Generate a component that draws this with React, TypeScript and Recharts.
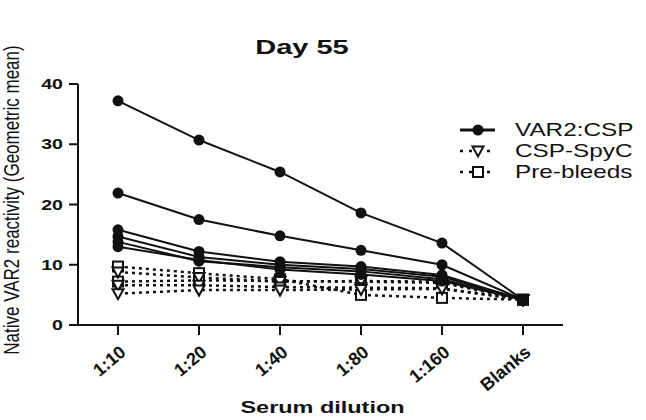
import React from 'react';
import { LineChart, Line, XAxis, YAxis, Legend, Label } from 'recharts';

// serum dilutions on the x axis
const dilutions = ['1:10', '1:20', '1:40', '1:80', '1:160', 'Blanks'];
const yTicks = [0, 10, 20, 30, 40];

// VAR2:CSP immunised groups (solid, filled circles)
const var2Csp1 = [37.2, 30.7, 25.4, 18.6, 13.6, 4.2];
const var2Csp2 = [21.9, 17.5, 14.8, 12.4, 10.0, 4.2];
const var2Csp3 = [15.8, 12.2, 10.5, 9.7, 8.3, 4.2];
const var2Csp4 = [14.7, 11.3, 10.0, 9.3, 8.0, 4.2];
const var2Csp5 = [13.8, 10.6, 9.6, 8.9, 7.6, 4.2];
const var2Csp6 = [13.0, 10.8, 9.2, 8.4, 7.3, 4.2];

// CSP-SpyC groups (dotted, open triangles)
const cspSpyC1 = [8.8, 7.9, 7.2, 7.3, 7.2, 4.2];
const cspSpyC2 = [6.6, 6.6, 6.3, 6.2, 6.1, 4.2];
const cspSpyC3 = [5.2, 5.8, 5.8, 5.9, 6.0, 4.2];

// pre-bleeds (dotted, open squares)
const preBleeds1 = [9.7, 8.6, 7.6, 5.0, 4.5, 4.2];
const preBleeds2 = [7.2, 7.4, 7.3, 7.2, 7.0, 4.2];

const legendItems = [
  { name: 'VAR2:CSP', kind: 'circle' },
  { name: 'CSP-SpyC', kind: 'triangle' },
  { name: 'Pre-bleeds', kind: 'square' },
];

const solidSeries = [var2Csp1, var2Csp2, var2Csp3, var2Csp4, var2Csp5, var2Csp6];
const triSeries = [cspSpyC1, cspSpyC2, cspSpyC3];
const sqSeries = [preBleeds1, preBleeds2];

const data = dilutions.map((d, i) => {
  const row: any = { dilution: d };
  solidSeries.forEach((s, k) => (row['v' + k] = s[i]));
  triSeries.forEach((s, k) => (row['t' + k] = s[i]));
  sqSeries.forEach((s, k) => (row['p' + k] = s[i]));
  return row;
});

const INK = '#111';
const FONT = '"Liberation Sans", Arial, sans-serif';

function Marker({ kind, cx, cy }: { kind: string; cx: number; cy: number }) {
  if (kind === 'circle') return <circle cx={cx} cy={cy} r={5.5} fill={INK} />;
  if (kind === 'triangle')
    return (
      <path
        d={`M${cx - 5.5},${cy - 4.5} L${cx + 5.5},${cy - 4.5} L${cx},${cy + 5.5} Z`}
        fill="#fff"
        stroke={INK}
        strokeWidth={2}
      />
    );
  return <rect x={cx - 5} y={cy - 5} width={10} height={10} fill="#fff" stroke={INK} strokeWidth={2} />;
}

const dotFor = (kind: string) => (p: any) => (
  <Marker key={`${kind}-${p.dataKey}-${p.index}`} kind={kind} cx={p.cx} cy={p.cy} />
);

function XTick({ x, y, payload }: any) {
  const ax = x + 9;
  const ay = y + 17;
  return (
    <text
      x={ax}
      y={ay}
      textAnchor="end"
      transform={`rotate(-40, ${ax}, ${ay})`}
      fontFamily={FONT}
      fontWeight="bold"
      fontSize={18}
      fill={INK}
    >
      {payload.value}
    </text>
  );
}

function YTick({ y, payload }: any) {
  return (
    <text
      transform={`translate(63, ${y + 5}) scale(1.4, 1)`}
      textAnchor="end"
      fontFamily={FONT}
      fontWeight="bold"
      fontSize={14}
      fill={INK}
    >
      {payload.value}
    </text>
  );
}

function LegendBox() {
  return (
    <svg width={190} height={70}>
      {legendItems.map((it, i) => {
        const cy = 12 + i * 21;
        return (
          <g key={it.name}>
            <line
              x1={5}
              x2={40}
              y1={cy}
              y2={cy}
              stroke={INK}
              strokeWidth={it.kind === 'circle' ? 3 : 2.5}
              strokeDasharray={it.kind === 'circle' ? undefined : '3 6'}
            />
            <Marker kind={it.kind} cx={23} cy={cy} />
            <text
              transform={`translate(60, ${cy + 6}) scale(1.35, 1)`}
              fontFamily={FONT}
              fontSize={18}
              fill={INK}
            >
              {it.name}
            </text>
          </g>
        );
      })}
    </svg>
  );
}

export default function App() {
  return (
    <div style={{ position: 'absolute', left: 0, top: 0, width: 646, height: 420, background: '#fff' }}>
      <LineChart width={646} height={420} data={data} margin={{ top: 84, right: 83, bottom: 65, left: 28 }}>
        <XAxis
          dataKey="dilution"
          padding={{ left: 40, right: 40 }}
          stroke={INK}
          strokeWidth={2}
          tickSize={10}
          tick={<XTick />}
          interval={0}
        >
          <Label
            content={(p: any) => {
              const vb = p.viewBox;
              return (
                <text
                  transform={`translate(${vb.x + vb.width / 2 + 2}, 413) scale(1.38, 1)`}
                  textAnchor="middle"
                  fontFamily={FONT}
                  fontWeight="bold"
                  fontSize={17}
                  fill={INK}
                >
                  Serum dilution
                </text>
              );
            }}
          />
        </XAxis>
        <YAxis
          width={50}
          domain={[0, 40]}
          ticks={yTicks}
          stroke={INK}
          strokeWidth={2}
          tickSize={9}
          tick={<YTick />}
        >
          <Label
            content={() => (
              <text
                transform="translate(19, 200) rotate(-90) scale(1, 1.3)"
                textAnchor="middle"
                fontFamily={FONT}
                fontSize={17}
                fill={INK}
              >
                Native VAR2 reactivity (Geometric mean)
              </text>
            )}
          />
        </YAxis>
        <Legend
          layout="vertical"
          align="center"
          verticalAlign="middle"
          content={<LegendBox />}
          wrapperStyle={{ left: 455, top: 118, width: 190, height: 70 }}
        />
        {sqSeries.map((_, k) => (
          <Line
            key={'p' + k}
            dataKey={'p' + k}
            stroke={INK}
            strokeWidth={2.5}
            strokeDasharray="3 4"
            dot={dotFor('square')}
            isAnimationActive={false}
            legendType="none"
          />
        ))}
        {triSeries.map((_, k) => (
          <Line
            key={'t' + k}
            dataKey={'t' + k}
            stroke={INK}
            strokeWidth={2.5}
            strokeDasharray="3 4"
            dot={dotFor('triangle')}
            isAnimationActive={false}
            legendType="none"
          />
        ))}
        {solidSeries.map((_, k) => (
          <Line
            key={'v' + k}
            dataKey={'v' + k}
            stroke={INK}
            strokeWidth={2}
            dot={dotFor('circle')}
            isAnimationActive={false}
            legendType="none"
          />
        ))}
      </LineChart>
      <svg style={{ position: 'absolute', left: 0, top: 0, pointerEvents: 'none' }} width={646} height={80}>
        <text
          transform="translate(302, 54) scale(1.45, 1)"
          textAnchor="middle"
          fontFamily={FONT}
          fontWeight="bold"
          fontSize={20}
          fill={INK}
        >
          Day 55
        </text>
      </svg>
    </div>
  );
}
